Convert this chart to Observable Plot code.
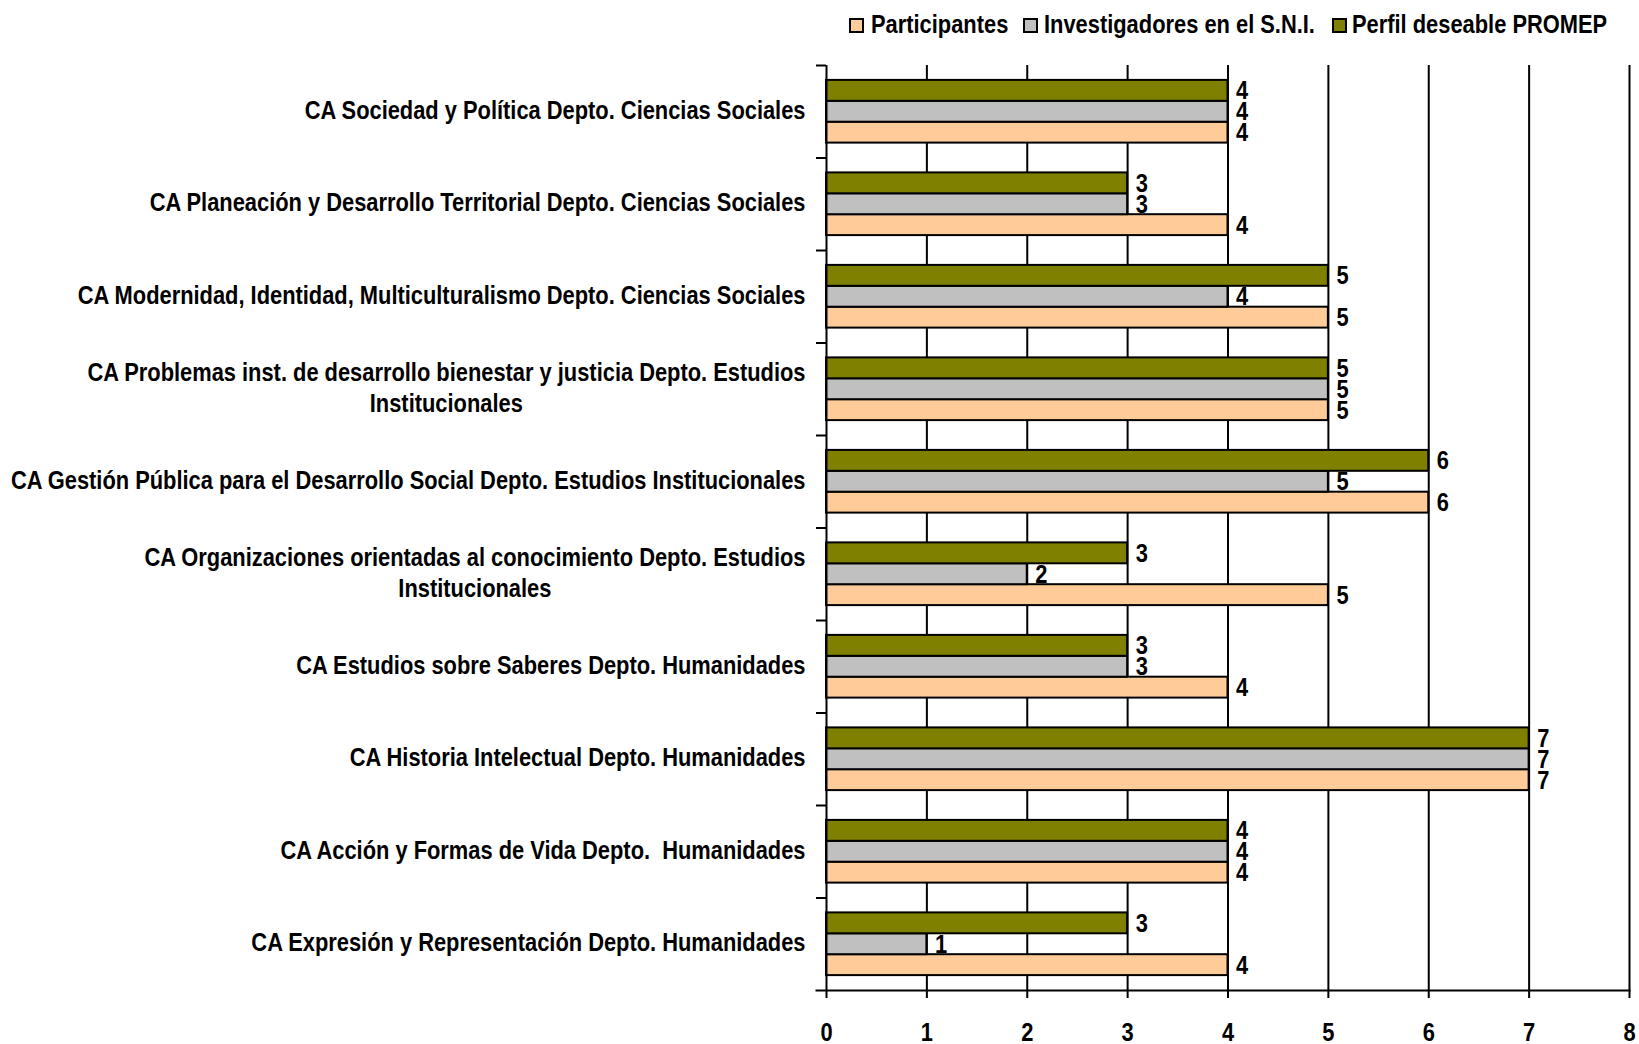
<!DOCTYPE html>
<html>
<head>
<meta charset="utf-8">
<script src="https://cdn.jsdelivr.net/npm/d3@7"></script>
<script src="https://cdn.jsdelivr.net/npm/@observablehq/plot@0.6"></script>
<style>
  html, body { margin: 0; padding: 0; background: #fff; }
  #wrap { position: relative; width: 1639px; height: 1044px; font-family: "Liberation Sans", Arial, sans-serif; font-weight: bold; color: #000; }
  .sw { position: absolute; top: 18px; width: 11px; height: 11px; border: 2px solid #000; }
  .lt { position: absolute; top: 8px; font-size: 26.5px; line-height: 32px; white-space: nowrap; transform: scaleX(0.825); transform-origin: 0 50%; }
</style>
</head>
<body>
<div id="wrap"></div>
<script>
const categories = [
  "CA Sociedad y Política Depto. Ciencias Sociales",
  "CA Planeación y Desarrollo Territorial Depto. Ciencias Sociales",
  "CA Modernidad, Identidad, Multiculturalismo Depto. Ciencias Sociales",
  "CA Problemas inst. de desarrollo bienestar y justicia Depto. Estudios\nInstitucionales",
  "CA Gestión Pública para el Desarrollo Social Depto. Estudios Institucionales",
  "CA Organizaciones orientadas al conocimiento Depto. Estudios\nInstitucionales",
  "CA Estudios sobre Saberes Depto. Humanidades",
  "CA Historia Intelectual Depto. Humanidades",
  "CA Acción y Formas de Vida Depto.  Humanidades",
  "CA Expresión y Representación Depto. Humanidades"
];
const seriesNames = ["Participantes", "Investigadores en el S.N.I.", "Perfil deseable PROMEP"];
const participantes = [4, 4, 5, 5, 6, 5, 4, 7, 4, 4];
const investigadores = [4, 3, 4, 5, 5, 2, 3, 7, 4, 1];
const promep = [4, 3, 5, 5, 6, 3, 3, 7, 4, 3];
const colors = ["#FFCC99", "#C0C0C0", "#808000"];
const xTicks = [0, 1, 2, 3, 4, 5, 6, 7, 8];

const W = 1639, H = 1044, mL = 826, mR = 10, mT = 65, mB = 54;
const plotW = W - mL - mR;
const bw = (H - mT - mB) / categories.length;
const barH = 20.9;
const pad = (bw - 3 * barH) / 2;
const FS = 26.5;      // font size
const SX = 0.825;     // horizontal condensing (narrow face)

const seriesValues = [participantes, investigadores, promep];
// slot: 0 = top (PROMEP), 1 = middle (S.N.I.), 2 = bottom (Participantes)
const slotOf = [2, 1, 0];

const marks = [];
marks.push(Plot.ruleX(xTicks.slice(1), {stroke: "#000", strokeWidth: 2}));
seriesValues.forEach((vals, s) => {
  const rows = categories.map((c, i) => ({category: c, value: vals[i]}));
  const k = slotOf[s];
  marks.push(Plot.barX(rows, {
    x: "value", y: "category", fill: colors[s], stroke: "#000", strokeWidth: 2,
    insetTop: pad + k * barH, insetBottom: bw - pad - (k + 1) * barH
  }));
  marks.push(Plot.text(rows, {
    x: "value", y: "category", text: d => String(d.value),
    textAnchor: "start", dx: 8, dy: (k - 1) * barH,
    fontSize: FS, fontWeight: "bold", fill: "#000"
  }));
});
marks.push(Plot.ruleX([0], {stroke: "#000", strokeWidth: 2}));
marks.push(Plot.ruleY(categories, {y: d => d, dy: -bw / 2, insetLeft: -10, insetRight: plotW, stroke: "#000", strokeWidth: 2}));
marks.push(Plot.frame({anchor: "bottom", insetLeft: -10, stroke: "#000", strokeWidth: 2}));
marks.push(Plot.text(categories, {
  y: d => d, text: d => d, frameAnchor: "left", textAnchor: "end", dx: -21, dy: -3,
  lineHeight: 1.2, fontSize: FS, fontWeight: "bold", fill: "#000"
}));
marks.push(Plot.axisX(xTicks, {tickSize: 8, tickPadding: 24, fontSize: FS, fontWeight: "bold", stroke: "#000", strokeWidth: 2, fill: "#000", label: null}));

const chart = Plot.plot({
  width: W, height: H,
  marginLeft: mL, marginRight: mR, marginTop: mT, marginBottom: mB,
  x: {domain: [0, 8], label: null},
  y: {domain: categories, padding: 0, axis: null, round: false},
  style: {fontFamily: '"Liberation Sans", Arial, sans-serif', fontWeight: "bold", fontSize: FS + "px", color: "#000", background: "transparent", overflow: "visible"},
  marks
});
chart.style.position = "absolute";
chart.style.left = "0";
chart.style.top = "0";
const wrap = document.getElementById("wrap");
wrap.appendChild(chart);

chart.querySelectorAll("text").forEach(t => {
  const ts = t.querySelectorAll("tspan");
  if (ts.length > 1) {
    const w = ts[0].getComputedTextLength();
    const x0 = +(ts[0].getAttribute("x") || 0);
    for (let j = 1; j < ts.length; j++) {
      ts[j].setAttribute("x", x0 - w / 2);
      ts[j].setAttribute("text-anchor", "middle");
    }
  }
  const bb = t.getBBox();
  const anchor = getComputedStyle(t).textAnchor;
  const ax = anchor === "end" ? bb.x + bb.width : anchor === "middle" ? bb.x + bb.width / 2 : bb.x;
  const tr = t.getAttribute("transform") || "";
  t.setAttribute("transform", `${tr} translate(${ax},0) scale(${SX},1) translate(${-ax},0)`.trim());
});

// legend (left positions of swatches and labels)
const legendPos = [[849, 871], [1023, 1044], [1332, 1352]];
seriesNames.forEach((name, s) => {
  const sw = document.createElement("div");
  sw.className = "sw";
  sw.style.left = legendPos[s][0] + "px";
  sw.style.background = colors[s];
  const lab = document.createElement("div");
  lab.className = "lt";
  lab.style.left = legendPos[s][1] + "px";
  lab.textContent = name;
  wrap.appendChild(sw);
  wrap.appendChild(lab);
});
</script>
</body>
</html>
